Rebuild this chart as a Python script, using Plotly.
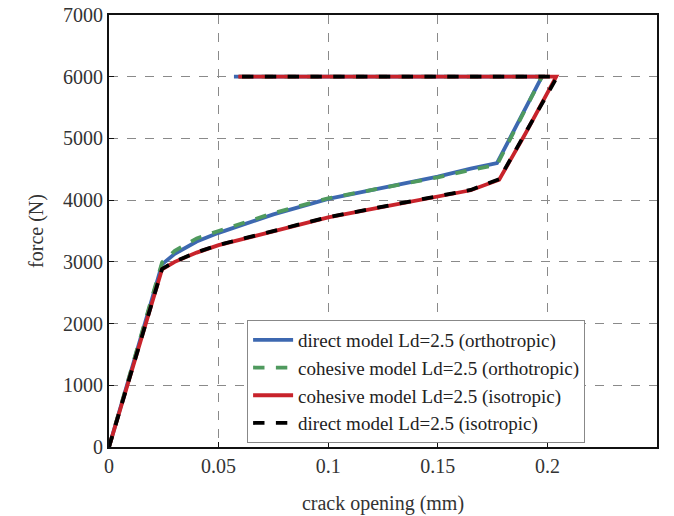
import plotly.graph_objects as go

# Crack opening (mm) and force (N) for each model
ortho_direct_x = [0.0, 0.0242, 0.030, 0.040, 0.050, 0.075, 0.100, 0.125, 0.150, 0.165, 0.177, 0.1975, 0.057]
ortho_direct_y = [0, 2960, 3130, 3330, 3470, 3770, 4020, 4200, 4380, 4510, 4600, 6000, 6000]

ortho_cohesive_x = [0.0, 0.0242, 0.030, 0.040, 0.050, 0.075, 0.100, 0.125, 0.150, 0.165, 0.177, 0.1975, 0.055]
ortho_cohesive_y = [0, 2990, 3180, 3380, 3500, 3790, 4030, 4200, 4370, 4490, 4570, 6000, 6000]

iso_cohesive_x = [0.0, 0.0242, 0.030, 0.040, 0.050, 0.075, 0.100, 0.125, 0.150, 0.165, 0.178, 0.190, 0.204, 0.059]
iso_cohesive_y = [0, 2880, 3000, 3150, 3270, 3500, 3720, 3890, 4050, 4160, 4330, 5080, 6000, 6000]

iso_direct_x = [0.0, 0.0242, 0.030, 0.040, 0.050, 0.075, 0.100, 0.125, 0.150, 0.165, 0.178, 0.190, 0.2045, 0.060]
iso_direct_y = [0, 2885, 3005, 3155, 3275, 3505, 3725, 3895, 4055, 4165, 4340, 5100, 6000, 6000]

x_ticks = [0, 0.05, 0.1, 0.15, 0.2, 0.25]
x_tick_text = ["0", "0.05", "0.1", "0.15", "0.2", "0.25"]
y_ticks = [0, 1000, 2000, 3000, 4000, 5000, 6000, 7000]

series = [
    ("direct model Ld=2.5 (orthotropic)", ortho_direct_x, ortho_direct_y, "#3d68b0", "solid"),
    ("cohesive model Ld=2.5 (orthotropic)", ortho_cohesive_x, ortho_cohesive_y, "#4f9a5e", "dash"),
    ("cohesive model Ld=2.5 (isotropic)", iso_cohesive_x, iso_cohesive_y, "#c8232b", "solid"),
    ("direct model Ld=2.5 (isotropic)", iso_direct_x, iso_direct_y, "#000000", "dash"),
]

fig = go.Figure()
for name, xs, ys, color, dash in series:
    fig.add_trace(go.Scatter(
        x=xs, y=ys, mode="lines", name=name,
        line=dict(color=color, width=3.8, dash=dash),
    ))

font_family = "Liberation Serif"
axis_common = dict(
    showline=True, linecolor="#111111", linewidth=2, mirror=True,
    ticks="inside", ticklen=5, tickcolor="#111111",
    showgrid=True, gridcolor="#8a8a8a", gridwidth=1, griddash="dash",
    zeroline=False, automargin=False,
    tickfont=dict(family=font_family, size=20, color="#333333"),
)

fig.update_layout(
    width=674, height=516,
    margin=dict(l=109, r=17, t=15, b=69),
    paper_bgcolor="white", plot_bgcolor="white",
    font=dict(family=font_family, color="#222222"),
    xaxis=dict(
        range=[0, 0.25], tickvals=x_ticks, ticktext=x_tick_text,
        title=dict(text="crack opening (mm)", font=dict(family=font_family, size=20, color="#333333"), standoff=20),
        **axis_common,
    ),
    yaxis=dict(
        range=[0, 7000], tickvals=y_ticks,
        title=dict(text="force (N)", font=dict(family=font_family, size=20, color="#333333"), standoff=14),
        **axis_common,
    ),
    legend=dict(
        x=0.252, y=0.294, xanchor="left", yanchor="top",
        bgcolor="white", bordercolor="#888888", borderwidth=1,
        font=dict(family=font_family, size=19, color="#222222"),
        tracegroupgap=0, itemwidth=40,
    ),
    showlegend=True,
)

fig.write_html("out.html")
